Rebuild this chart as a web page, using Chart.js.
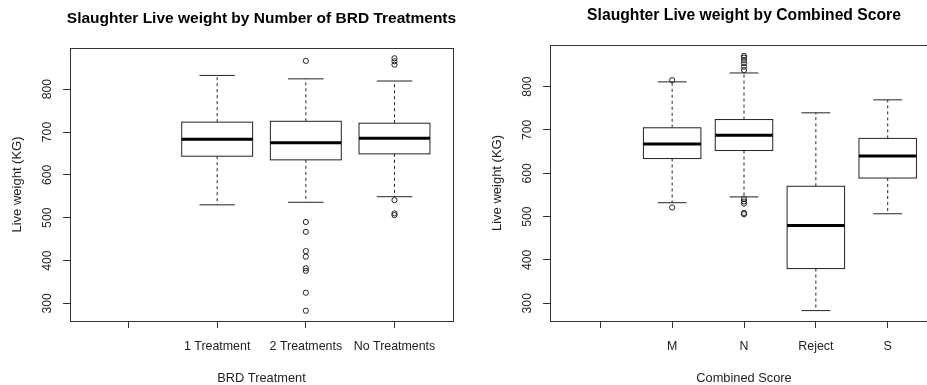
<!DOCTYPE html>
<html>
<head>
<meta charset="utf-8">
<script src="https://cdn.jsdelivr.net/npm/chart.js@4.4.1/dist/chart.umd.min.js"></script>
<style>
  html, body { margin: 0; padding: 0; background: #fff; overflow: hidden; width: 927px; height: 385px; }
  .panel { position: absolute; top: 0; }
  #treatPanel { left: 0; }
  #scorePanel { left: 480px; }
</style>
</head>
<body>
<div class="panel" id="treatPanel"><canvas id="treatChart" width="523" height="385"></canvas></div>
<div class="panel" id="scorePanel"><canvas id="scoreChart" width="528" height="385"></canvas></div>
<script>
// Données : BRD Treatment (le premier niveau est vide)
const treatCategories = ['', '1 Treatment', '2 Treatments', 'No Treatments'];
const treatLow = [null, 530, 536, 549];
const treatQ1 = [null, 643.5, 635, 649];
const treatMedian = [null, 683, 675, 685.5];
const treatQ3 = [null, 723, 725, 720.5];
const treatHigh = [null, 832, 824, 819];
const treatOutliers = [[], [], [866, 490, 467, 422, 409, 382, 376, 325, 283], [872, 865, 857, 541, 510, 506]];

// Données : Combined Score
const scoreCategories = ['', 'M', 'N', 'Reject', 'S'];
const scoreLow = [null, 532, 545.5, 283, 506.5];
const scoreQ1 = [null, 634, 652.5, 380, 589];
const scoreMedian = [null, 667.5, 688, 479.5, 640];
const scoreQ3 = [null, 705, 724, 570, 680.5];
const scoreHigh = [null, 811, 831.5, 739.5, 769.5];
const scoreOutliers = [[], [815, 521], [871, 867, 861, 854, 846, 838, 541, 535, 530, 508.5, 505.5], [], []];

const yTicks = [300, 400, 500, 600, 700, 800];
const yMin = 259;
const yMax = 896;

const FONT = "'Liberation Sans', Arial, sans-serif";

// Plugin boîtes à moustaches (style R)
const boxPlugin = {
    id: 'boxes',
    beforeDatasetsDraw(chart, args, opts) {
        const { ctx, chartArea, scales: { x, y } } = chart;
        ctx.save();
        // cadre
        ctx.strokeStyle = '#333';
        ctx.lineWidth = 1;
        ctx.strokeRect(chartArea.left + 0.5, chartArea.top + 0.5, chartArea.right - chartArea.left, chartArea.bottom - chartArea.top);

        opts.median.forEach((med, i) => {
            if (med === null) return;
            const pos = i + 1;
            const xl = x.getPixelForValue(pos - 0.4);
            const xr = x.getPixelForValue(pos + 0.4);
            const xc = x.getPixelForValue(pos);
            const sl = x.getPixelForValue(pos - 0.2);
            const sr = x.getPixelForValue(pos + 0.2);
            const yLo = y.getPixelForValue(opts.low[i]);
            const yQ1 = y.getPixelForValue(opts.q1[i]);
            const yMed = y.getPixelForValue(med);
            const yQ3 = y.getPixelForValue(opts.q3[i]);
            const yHi = y.getPixelForValue(opts.high[i]);

            ctx.strokeStyle = '#222';
            ctx.lineWidth = 1;
            // moustaches
            ctx.setLineDash([3, 3]);
            ctx.beginPath();
            ctx.moveTo(xc, yQ3); ctx.lineTo(xc, yHi);
            ctx.moveTo(xc, yQ1); ctx.lineTo(xc, yLo);
            ctx.stroke();
            ctx.setLineDash([]);
            ctx.beginPath();
            ctx.moveTo(sl, yHi); ctx.lineTo(sr, yHi);
            ctx.moveTo(sl, yLo); ctx.lineTo(sr, yLo);
            ctx.stroke();
            // boîte
            ctx.fillStyle = '#fff';
            ctx.fillRect(xl, yQ3, xr - xl, yQ1 - yQ3);
            ctx.strokeRect(xl, yQ3, xr - xl, yQ1 - yQ3);
            // médiane
            ctx.strokeStyle = '#000';
            ctx.lineWidth = 3;
            ctx.beginPath();
            ctx.moveTo(xl, yMed); ctx.lineTo(xr, yMed);
            ctx.stroke();
        });
        ctx.restore();
    }
};

function outlierPoints(outliers) {
    const pts = [];
    outliers.forEach((list, i) => {
        list.forEach(v => pts.push({ x: i + 1, y: v }));
    });
    return pts;
}

function makeBoxChart(canvasId, cfg) {
    const ctx = document.getElementById(canvasId).getContext('2d');
    const xTickValues = cfg.categories.map((c, i) => i + 1);
    return new Chart(ctx, {
        type: 'scatter',
        data: {
            datasets: [{
                data: outlierPoints(cfg.outliers),
                pointStyle: 'circle',
                pointRadius: 2.6,
                pointBorderWidth: 1,
                borderColor: '#222',
                backgroundColor: 'rgba(0,0,0,0)',
                showLine: false
            }]
        },
        options: {
            responsive: false,
            animation: false,
            layout: { padding: 0 },
            plugins: {
                legend: { display: false },
                tooltip: { enabled: false },
                title: {
                    display: true,
                    text: cfg.title,
                    color: '#000',
                    font: { family: FONT, size: cfg.titleSize, weight: 'bold' },
                    padding: { top: cfg.titleTop, bottom: cfg.titleBottom }
                },
                boxes: {
                    low: cfg.low, q1: cfg.q1, median: cfg.median, q3: cfg.q3, high: cfg.high
                }
            },
            scales: {
                x: {
                    type: 'linear',
                    bounds: 'data',
                    min: cfg.xMin,
                    max: cfg.xMax,
                    afterBuildTicks: axis => { axis.ticks = xTickValues.map(v => ({ value: v })); },
                    afterFit: axis => { axis.height = 64; },
                    grid: { drawOnChartArea: false, drawTicks: true, tickLength: 7, color: '#333' },
                    border: { display: false },
                    ticks: {
                        autoSkip: false,
                        maxRotation: 0,
                        padding: 11,
                        color: '#222',
                        font: { family: FONT, size: 12.4 },
                        callback: v => cfg.categories[Math.round(v) - 1] ?? ''
                    },
                    title: {
                        display: true,
                        text: cfg.xTitle,
                        color: '#222',
                        font: { family: FONT, size: 12.8, lineHeight: 1.0 },
                        padding: { top: 0, bottom: 0.5 }
                    }
                },
                y: {
                    type: 'linear',
                    bounds: 'data',
                    min: yMin,
                    max: yMax,
                    afterBuildTicks: axis => { axis.ticks = yTicks.map(v => ({ value: v })); },
                    afterFit: axis => { axis.width = 70; },
                    grid: { drawOnChartArea: false, drawTicks: true, tickLength: 7, color: '#333' },
                    border: { display: false },
                    ticks: {
                        minRotation: 90,
                        maxRotation: 90,
                        crossAlign: 'center',
                        padding: 5,
                        color: '#222',
                        font: { family: FONT, size: 12.2 }
                    },
                    title: {
                        display: true,
                        text: 'Live weight (KG)',
                        color: '#222',
                        font: { family: FONT, size: 13 },
                        padding: { top: cfg.yTitlePad, bottom: 0 }
                    }
                },
                // marge droite, pour centrer le titre sur la zone du graphe
                yRight: {
                    type: 'linear',
                    position: 'right',
                    display: true,
                    afterFit: axis => { axis.width = 70; },
                    grid: { display: false },
                    border: { display: false },
                    ticks: { display: false }
                }
            }
        },
        plugins: [boxPlugin]
    });
}

document.addEventListener('DOMContentLoaded', () => {
    makeBoxChart('treatChart', {
        title: 'Slaughter Live weight by Number of BRD Treatments',
        titleSize: 15.5,
        titleTop: 9.7,
        titleBottom: 19.7,
        xTitle: 'BRD Treatment',
        yTitlePad: 10,
        categories: treatCategories,
        xMin: 0.34, xMax: 4.66,
        low: treatLow, q1: treatQ1, median: treatMedian, q3: treatQ3, high: treatHigh,
        outliers: treatOutliers
    });

    makeBoxChart('scoreChart', {
        title: 'Slaughter Live weight by Combined Score',
        titleSize: 15.7,
        titleTop: 6.6,
        titleBottom: 19.6,
        xTitle: 'Combined Score',
        yTitlePad: 10,
        categories: scoreCategories,
        xMin: 0.3, xMax: 5.7,
        low: scoreLow, q1: scoreQ1, median: scoreMedian, q3: scoreQ3, high: scoreHigh,
        outliers: scoreOutliers
    });
});
</script>
</body>
</html>
